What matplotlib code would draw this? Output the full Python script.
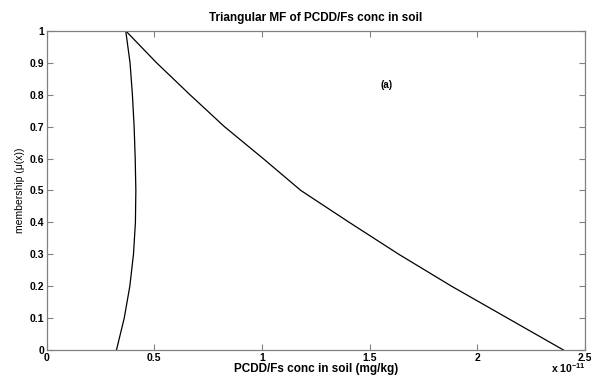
import numpy as np
import matplotlib.pyplot as plt

plt.rcParams['font.family'] = ['Liberation Sans', 'DejaVu Sans']
plt.rcParams['mathtext.fontset'] = 'custom'
plt.rcParams['mathtext.bf'] = 'Liberation Sans:bold'

# membership levels
mu = [1.0, 0.9, 0.8, 0.7, 0.6, 0.5, 0.4, 0.3, 0.2, 0.1, 0.0]
# concentration (x 1e-11 mg/kg) - left and right branches
left_x = [0.367, 0.387, 0.398, 0.406, 0.411, 0.414, 0.412, 0.403, 0.386, 0.360, 0.324]
right_x = [0.367, 0.510, 0.665, 0.825, 1.005, 1.180, 1.405, 1.635, 1.880, 2.140, 2.400]

xticks = [0, 0.5, 1, 1.5, 2, 2.5]
xticklabels = ['0', '0.5', '1', '1.5', '2', '2.5']
yticks = [0, 0.1, 0.2, 0.3, 0.4, 0.5, 0.6, 0.7, 0.8, 0.9, 1]
yticklabels = ['0', '0.1', '0.2', '0.3', '0.4', '0.5', '0.6', '0.7', '0.8', '0.9', '1']

fig = plt.figure(figsize=(5.91, 3.76), dpi=100)
ax = fig.add_axes([0.079, 0.069, 0.911, 0.849])

ax.plot(left_x, mu, color='black', linewidth=0.9)
ax.plot(right_x, mu, color='black', linewidth=0.9)

ax.set_xlim(0, 2.5)
ax.set_ylim(0, 1)
ax.set_xticks(xticks)
ax.set_xticklabels(xticklabels, fontsize=7.5, fontweight='bold')
ax.set_yticks(yticks)
ax.set_yticklabels(yticklabels, fontsize=7.5, fontweight='bold')
ax.tick_params(direction='in', length=4, width=0.8, color='#808080',
               top=True, right=True, pad=2)
for s in ax.spines.values():
    s.set_color('#808080')
    s.set_linewidth(0.9)

ax.set_title('Triangular MF of PCDD/Fs conc in soil', fontsize=8.5, fontweight='bold', pad=7)
ax.set_xlabel('PCDD/Fs conc in soil (mg/kg)', fontsize=8.5, fontweight='bold', labelpad=0)
ax.set_ylabel('membership (μ(x))', fontsize=7.5, labelpad=3)
ax.text(1.58, 0.83, '(a)', fontsize=7, fontweight='bold', ha='center', va='center')
fig.text(0.99, 0.003, r'x 10$^{\mathbf{-11}}$', fontsize=7.5, fontweight='bold', ha='right', va='bottom')

fig.savefig('out.png', dpi=100)
